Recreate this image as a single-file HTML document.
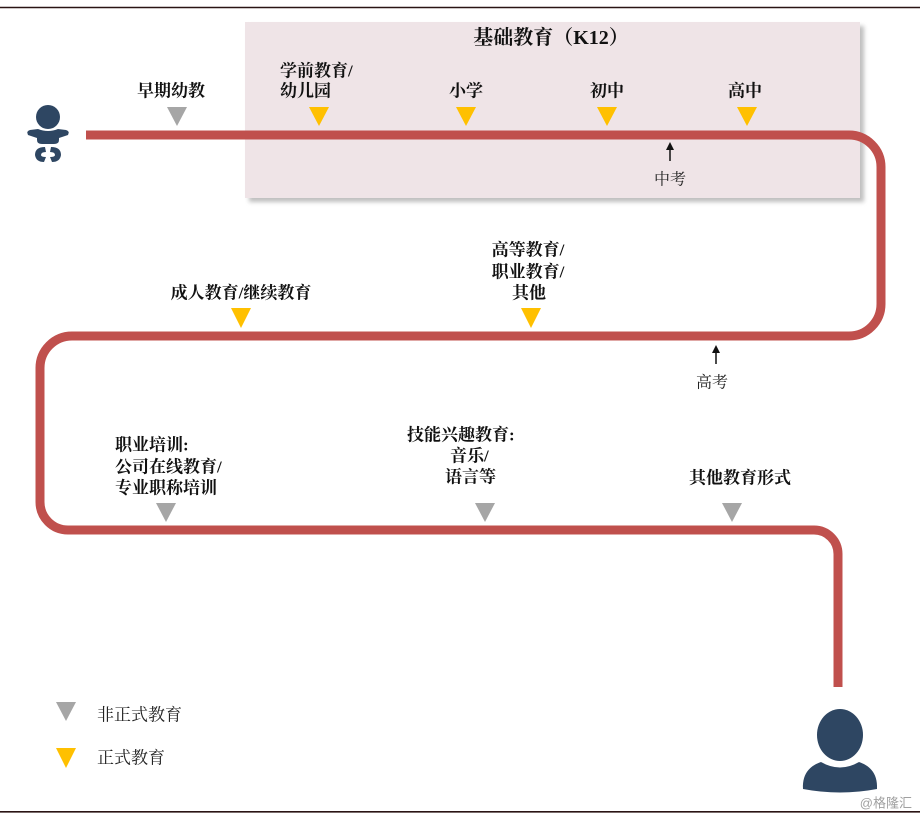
<!DOCTYPE html>
<html><head><meta charset="utf-8"><style>
html,body{margin:0;padding:0;background:#fff;}
svg{display:block;}
.b{font-family:"Liberation Serif","Noto Serif CJK SC",serif;font-weight:700;font-size:17px;fill:#111;}
.n{font-family:"Liberation Serif","Noto Serif CJK SC",serif;font-weight:400;font-size:16px;fill:#222;}
</style></head><body>
<svg width="920" height="818" viewBox="0 0 920 818" xmlns="http://www.w3.org/2000/svg">
<defs>
<filter id="sh" x="-5%" y="-5%" width="110%" height="115%"><feGaussianBlur stdDeviation="2"/></filter>
</defs>
<rect width="920" height="818" fill="#fff"/>
<line x1="0" y1="7.5" x2="920" y2="7.5" stroke="#2a1414" stroke-width="1.6"/>
<line x1="0" y1="811.8" x2="920" y2="811.8" stroke="#2a1414" stroke-width="1.6"/>

<!-- K12 box -->
<rect x="249" y="26" width="615" height="176" fill="#8a8a8a" opacity="0.55" filter="url(#sh)"/>
<rect x="245" y="22" width="615" height="176" fill="#efe4e7"/>
<text x="551" y="38" class="b" style="font-size:20px" text-anchor="middle" dominant-baseline="central">基础教育（K12）</text>

<!-- red path -->
<path d="M86 135 H849 A32 32 0 0 1 881 167 V304 A32 32 0 0 1 849 336 H72 A32 32 0 0 0 40 368 V502 A28 28 0 0 0 68 530 H814 A24 24 0 0 1 838 554 V687" fill="none" stroke="#c0504d" stroke-width="9"/>

<!-- row1 -->
<text x="171" y="91" class="b" text-anchor="middle" dominant-baseline="central">早期幼教</text>
<text x="280" y="71" class="b" dominant-baseline="central">学前教育/</text>
<text x="280" y="91" class="b" dominant-baseline="central">幼儿园</text>
<text x="466" y="91" class="b" text-anchor="middle" dominant-baseline="central">小学</text>
<text x="607" y="91" class="b" text-anchor="middle" dominant-baseline="central">初中</text>
<text x="745" y="91" class="b" text-anchor="middle" dominant-baseline="central">高中</text>
<polygon points="167,107 187,107 177,126" fill="#a6a6a6"/>
<polygon points="309,107 329,107 319,126" fill="#ffc000"/>
<polygon points="456,107 476,107 466,126" fill="#ffc000"/>
<polygon points="597,107 617,107 607,126" fill="#ffc000"/>
<polygon points="737,107 757,107 747,126" fill="#ffc000"/>

<!-- 中考 -->
<line x1="670" y1="148" x2="670" y2="161" stroke="#111" stroke-width="1.5"/>
<polygon points="666,150 674,150 670,142" fill="#111"/>
<text x="670" y="180" class="n" text-anchor="middle" dominant-baseline="central">中考</text>

<!-- row2 -->
<text x="241" y="293" class="b" text-anchor="middle" dominant-baseline="central">成人教育/继续教育</text>
<polygon points="231,308 251,308 241,328" fill="#ffc000"/>
<text x="528" y="250" class="b" text-anchor="middle" dominant-baseline="central">高等教育/</text>
<text x="528" y="272" class="b" text-anchor="middle" dominant-baseline="central">职业教育/</text>
<text x="529" y="293" class="b" text-anchor="middle" dominant-baseline="central">其他</text>
<polygon points="521,308 541,308 531,328" fill="#ffc000"/>

<!-- 高考 -->
<line x1="716" y1="351" x2="716" y2="364" stroke="#111" stroke-width="1.5"/>
<polygon points="712,353 720,353 716,345" fill="#111"/>
<text x="712" y="383" class="n" text-anchor="middle" dominant-baseline="central">高考</text>

<!-- row3 -->
<text x="115" y="445" class="b" dominant-baseline="central">职业培训:</text>
<text x="115" y="467" class="b" dominant-baseline="central">公司在线教育/</text>
<text x="115" y="488" class="b" dominant-baseline="central">专业职称培训</text>
<polygon points="156,503 176,503 166,522" fill="#a6a6a6"/>
<text x="407" y="435" class="b" dominant-baseline="central">技能兴趣教育:</text>
<text x="450" y="456" class="b" dominant-baseline="central">音乐/</text>
<text x="445" y="477" class="b" dominant-baseline="central">语言等</text>
<polygon points="475,503 495,503 485,522" fill="#a6a6a6"/>
<text x="740" y="478" class="b" text-anchor="middle" dominant-baseline="central">其他教育形式</text>
<polygon points="722,503 742,503 732,522" fill="#a6a6a6"/>

<!-- legend -->
<polygon points="56,702 76,702 66,721" fill="#a6a6a6"/>
<text x="97" y="715" class="n" style="font-size:17px" dominant-baseline="central">非正式教育</text>
<polygon points="56,748 76,748 66,768" fill="#ffc000"/>
<text x="97" y="758" class="n" style="font-size:17px" dominant-baseline="central">正式教育</text>

<!-- baby icon -->
<g fill="#2e4662">
<circle cx="48" cy="117" r="12"/>
<path d="M38 129 Q48 133 58 129 L66 130 Q70 131 68 135 L59 138 L59 140 Q59 144 54 144 L42 144 Q37 144 37 140 L37 138 L28 135 Q26 131 30 130 Z"/>
<path d="M45 147 Q35 147 35 155 Q36 162 44 162 L46 157 Q41 157 41 155 Q41 152 46 152 Z"/>
<path d="M51 147 Q61 147 61 155 Q60 162 52 162 L50 157 Q55 157 55 155 Q55 152 50 152 Z"/>
</g>

<!-- person icon -->
<g fill="#2e4662">
<ellipse cx="840" cy="735" rx="23" ry="26"/>
<path d="M803 789 C802 772 812 765 821 762 Q840 773 859 762 C868 765 878 772 877 789 Q840 796 803 789 Z"/>
</g>

<text x="912" y="803" text-anchor="end" dominant-baseline="central" style="font-family:'Liberation Sans','Noto Sans CJK SC',sans-serif;font-size:13px;fill:#a0a0a0">@格隆汇</text>
</svg>
</body></html>
